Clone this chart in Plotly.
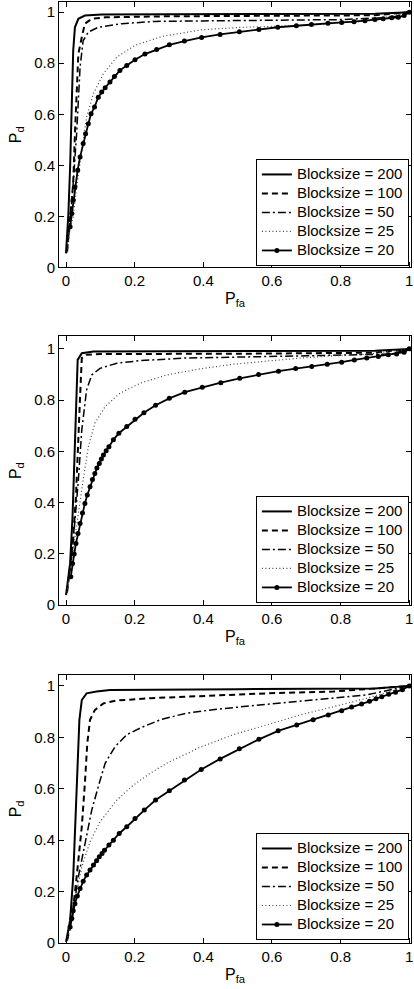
import plotly.graph_objects as go

LABELS = ["Blocksize = 200", "Blocksize = 100", "Blocksize = 50", "Blocksize = 25", "Blocksize = 20"]
TICKS = [0, 0.2, 0.4, 0.6, 0.8, 1]
TICK_TEXT = ["0", "0.2", "0.4", "0.6", "0.8", "1"]

# ---------------- Panel 1 ----------------
P1_X200 = [0, 0.007, 0.012, 0.017, 0.021, 0.026, 0.036, 0.055, 0.104, 0.3, 0.6, 0.9, 1.0]
P1_Y200 = [0.055, 0.211, 0.394, 0.655, 0.850, 0.941, 0.974, 0.987, 0.991, 0.992, 0.993, 0.994, 1.0]
P1_X100 = [0.003, 0.012, 0.021, 0.026, 0.031, 0.036, 0.046, 0.055, 0.075, 0.114, 0.3, 0.6, 0.9, 1.0]
P1_Y100 = [0.06, 0.198, 0.329, 0.524, 0.72, 0.837, 0.902, 0.955, 0.974, 0.980, 0.984, 0.986, 0.988, 1.0]
P1_X50 = [0.003, 0.012, 0.021, 0.031, 0.041, 0.050, 0.065, 0.094, 0.162, 0.259, 0.4, 0.6, 0.8, 0.95, 1.0]
P1_Y50 = [0.06, 0.18, 0.33, 0.524, 0.785, 0.889, 0.922, 0.941, 0.955, 0.964, 0.966, 0.968, 0.971, 0.98, 1.0]
P1_X25 = [0.003, 0.012, 0.021, 0.031, 0.046, 0.060, 0.080, 0.109, 0.148, 0.201, 0.279, 0.395, 0.5, 0.682, 0.876, 1.0]
P1_Y25 = [0.06, 0.15, 0.198, 0.315, 0.459, 0.589, 0.681, 0.759, 0.824, 0.870, 0.905, 0.931, 0.94, 0.948, 0.965, 1.0]
P1_X20 = [0.012, 0.017, 0.021, 0.026, 0.034, 0.041, 0.050, 0.057, 0.065, 0.073, 0.083, 0.094, 0.104,
          0.114, 0.128, 0.141, 0.157, 0.177, 0.201, 0.230, 0.264, 0.301, 0.345, 0.395, 0.449, 0.505,
          0.562, 0.617, 0.671, 0.715, 0.763, 0.803, 0.839, 0.871, 0.900, 0.924, 0.949, 0.968, 0.985, 1.0]
P1_Y20 = [0.159, 0.211, 0.263, 0.315, 0.381, 0.433, 0.485, 0.524, 0.563, 0.602, 0.628, 0.667, 0.687,
          0.704, 0.726, 0.748, 0.772, 0.791, 0.814, 0.836, 0.854, 0.872, 0.887, 0.901, 0.913, 0.923,
          0.932, 0.941, 0.947, 0.952, 0.957, 0.960, 0.963, 0.967, 0.971, 0.974, 0.978, 0.980, 0.987, 1.0]

# ---------------- Panel 2 ----------------
P2_X200 = [0, 0.012, 0.019, 0.026, 0.031, 0.034, 0.046, 0.080, 0.3, 0.6, 0.9, 1.0]
P2_Y200 = [0.039, 0.163, 0.345, 0.618, 0.879, 0.957, 0.983, 0.990, 0.991, 0.992, 0.993, 1.0]
P2_X100 = [0.003, 0.019, 0.029, 0.036, 0.041, 0.046, 0.060, 0.099, 0.5, 0.9, 1.0]
P2_Y100 = [0.05, 0.228, 0.423, 0.618, 0.814, 0.964, 0.977, 0.980, 0.981, 0.985, 1.0]
P2_X50 = [0.003, 0.021, 0.036, 0.046, 0.060, 0.075, 0.099, 0.148, 0.216, 0.342, 0.7, 0.95, 1.0]
P2_Y50 = [0.05, 0.25, 0.488, 0.684, 0.840, 0.898, 0.924, 0.944, 0.954, 0.964, 0.973, 0.98, 1.0]
P2_X25 = [0.003, 0.021, 0.036, 0.050, 0.065, 0.084, 0.114, 0.157, 0.216, 0.293, 0.390, 0.487, 0.584,
          0.682, 0.779, 0.876, 1.0]
P2_Y25 = [0.05, 0.228, 0.358, 0.488, 0.618, 0.710, 0.775, 0.827, 0.866, 0.898, 0.922, 0.940, 0.953,
          0.964, 0.973, 0.979, 1.0]
P2_X20 = [0.014, 0.019, 0.024, 0.029, 0.035, 0.041, 0.048, 0.055, 0.062, 0.070, 0.077, 0.084, 0.090,
          0.097, 0.103, 0.109, 0.117, 0.125, 0.138, 0.154, 0.177, 0.201, 0.227, 0.261, 0.301, 0.346,
          0.397, 0.451, 0.506, 0.561, 0.619, 0.669, 0.716, 0.761, 0.803, 0.840, 0.876, 0.910, 0.939,
          0.963, 0.985, 1.0]
P2_Y20 = [0.111, 0.163, 0.2, 0.241, 0.28, 0.319, 0.36, 0.397, 0.43, 0.462, 0.49, 0.514, 0.535,
          0.553, 0.57, 0.586, 0.603, 0.618, 0.645, 0.671, 0.697, 0.725, 0.751, 0.780, 0.807, 0.831,
          0.850, 0.868, 0.885, 0.900, 0.913, 0.923, 0.931, 0.940, 0.948, 0.957, 0.964, 0.970, 0.977,
          0.980, 0.987, 1.0]

# ---------------- Panel 3 ----------------
P3_X200 = [0, 0.012, 0.021, 0.029, 0.034, 0.039, 0.046, 0.060, 0.089, 0.128, 0.5, 0.9, 1.0]
P3_Y200 = [0.004, 0.088, 0.257, 0.517, 0.712, 0.868, 0.945, 0.971, 0.978, 0.984, 0.987, 0.99, 1.0]
P3_X100 = [0.003, 0.017, 0.031, 0.046, 0.055, 0.062, 0.070, 0.084, 0.109, 0.148, 0.245, 0.390, 0.584,
           0.779, 1.0]
P3_Y100 = [0.01, 0.088, 0.257, 0.452, 0.621, 0.777, 0.868, 0.906, 0.932, 0.943, 0.952, 0.961, 0.971,
           0.978, 1.0]
P3_X50 = [0.003, 0.021, 0.036, 0.055, 0.075, 0.094, 0.114, 0.143, 0.177, 0.216, 0.274, 0.351, 0.439,
          0.536, 0.633, 0.730, 0.876, 1.0]
P3_Y50 = [0.01, 0.127, 0.257, 0.387, 0.517, 0.608, 0.699, 0.764, 0.810, 0.836, 0.868, 0.894, 0.909,
          0.922, 0.935, 0.948, 0.965, 1.0]
P3_X25 = [0.003, 0.026, 0.046, 0.070, 0.099, 0.148, 0.196, 0.245, 0.293, 0.390, 0.487, 0.584, 0.682,
          0.779, 0.876, 1.0]
P3_Y25 = [0.01, 0.166, 0.296, 0.394, 0.471, 0.556, 0.614, 0.660, 0.699, 0.761, 0.810, 0.848, 0.887,
          0.919, 0.952, 1.0]
P3_X20 = [0.012, 0.017, 0.021, 0.026, 0.033, 0.041, 0.050, 0.060, 0.070, 0.080, 0.089, 0.097, 0.105,
          0.112, 0.125, 0.138, 0.155, 0.177, 0.201, 0.228, 0.261, 0.301, 0.345, 0.394, 0.449, 0.505,
          0.562, 0.618, 0.672, 0.720, 0.764, 0.803, 0.832, 0.861, 0.884, 0.903, 0.920, 0.940, 0.960,
          0.980, 1.0]
P3_Y20 = [0.062, 0.095, 0.125, 0.153, 0.183, 0.212, 0.24, 0.264, 0.284, 0.303, 0.32, 0.335, 0.348,
          0.361, 0.381, 0.400, 0.426, 0.452, 0.484, 0.517, 0.556, 0.592, 0.634, 0.675, 0.716, 0.755,
          0.792, 0.825, 0.848, 0.868, 0.887, 0.903, 0.918, 0.930, 0.940, 0.950, 0.958, 0.967, 0.975,
          0.985, 1.0]

PANELS = [
    [(P1_X200, P1_Y200), (P1_X100, P1_Y100), (P1_X50, P1_Y50), (P1_X25, P1_Y25), (P1_X20, P1_Y20)],
    [(P2_X200, P2_Y200), (P2_X100, P2_Y100), (P2_X50, P2_Y50), (P2_X25, P2_Y25), (P2_X20, P2_Y20)],
    [(P3_X200, P3_Y200), (P3_X100, P3_Y100), (P3_X50, P3_Y50), (P3_X25, P3_Y25), (P3_X20, P3_Y20)],
]

STYLES = [
    dict(mode="lines", line=dict(color="black", width=2, dash="solid")),
    dict(mode="lines", line=dict(color="black", width=2, dash="6px,4px")),
    dict(mode="lines", line=dict(color="black", width=1.5, dash="8px,3px,2px,3px")),
    dict(mode="lines", line=dict(color="#444444", width=1.2, dash="1px,2.5px")),
    dict(mode="lines+markers", line=dict(color="black", width=1.8, dash="solid"),
         marker=dict(color="black", size=5, symbol="circle")),
]

Y_DOMAINS = [[0.718, 1.0], [0.359, 0.645], [0.0, 0.285]]
Y_TOPS = [1.04, 1.05, 1.043]
LEGEND_Y = [0.7195, 0.3614, 0.0032]

FONT = "Liberation Sans, Arial, sans-serif"

fig = go.Figure()
layout = dict(
    width=414, height=989,
    margin=dict(l=59, r=3, t=2, b=46),
    paper_bgcolor="white", plot_bgcolor="white",
    font=dict(family=FONT, size=15, color="black"),
    showlegend=True,
)

for p, series in enumerate(PANELS):
    suffix = "" if p == 0 else str(p + 1)
    leg = "legend" + suffix
    for s, (xs, ys) in enumerate(series):
        fig.add_trace(go.Scatter(x=xs, y=ys,
                                 name='<span style="font-size:15px">' + LABELS[s] + "</span>",
                                 xaxis="x" + suffix, yaxis="y" + suffix,
                                 legend=leg, **STYLES[s]))
    axcommon = dict(showline=True, linecolor="black", linewidth=1, mirror="ticks",
                    ticks="inside", ticklen=5, tickcolor="black", showgrid=False, zeroline=False,
                    tickvals=TICKS, ticktext=TICK_TEXT, tickfont=dict(size=15, family=FONT))
    layout["xaxis" + suffix] = dict(domain=[0, 1], range=[-0.0204, 1.005], anchor="y" + suffix,
                                    title=dict(text="P<sub>fa</sub>", font=dict(size=16), standoff=4),
                                    **axcommon)
    layout["yaxis" + suffix] = dict(domain=Y_DOMAINS[p], range=[0, Y_TOPS[p]], anchor="x" + suffix,
                                    title=dict(text="P<sub>d</sub>", font=dict(size=16), standoff=8),
                                    **axcommon)
    layout[leg] = dict(x=0.994, y=LEGEND_Y[p], xanchor="right", yanchor="bottom",
                       bgcolor="white", bordercolor="black", borderwidth=1,
                       font=dict(size=12, family=FONT), tracegroupgap=0)

fig.update_layout(**layout)
fig.write_html("out.html", config={"displayModeBar": False},
               post_script="document.body.style.margin='0';document.body.style.overflow='hidden';")
